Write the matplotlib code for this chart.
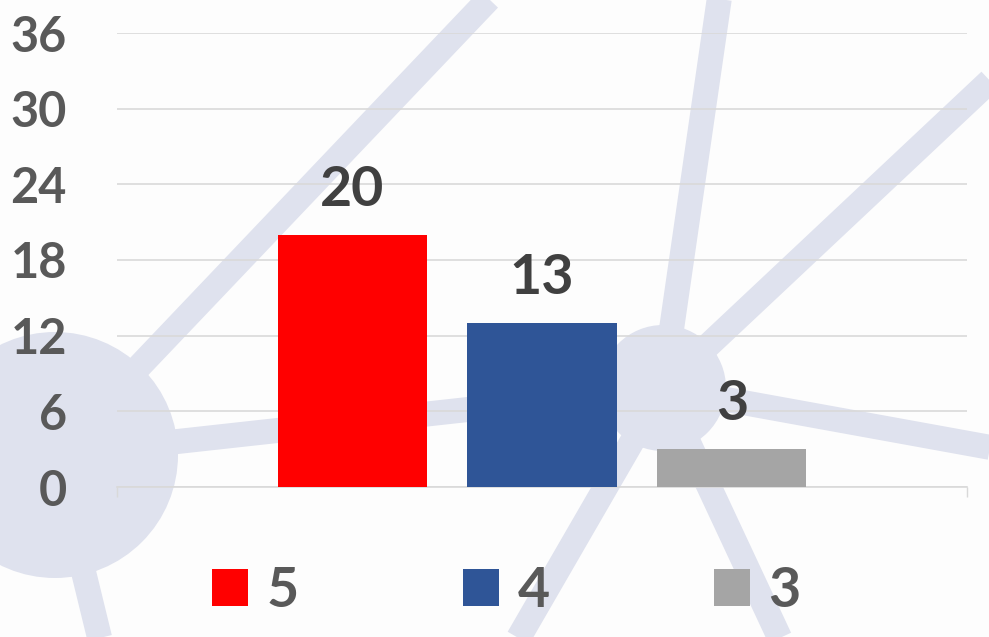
import matplotlib
matplotlib.use("Agg")
import matplotlib.pyplot as plt
from matplotlib.patches import Patch, Circle

# ---- data ----
series_names = ["5", "4", "3"]
values = [20, 13, 3]
colors = ["#FF0000", "#2F5597", "#A5A5A5"]
y_ticks = [0, 6, 12, 18, 24, 30, 36]

plt.rcParams["font.family"] = ["Lato", "DejaVu Sans"]

W, H = 989, 637
fig = plt.figure(figsize=(W / 100, H / 100), dpi=100)
fig.patch.set_facecolor("#FDFDFD")

# ---- decorative background network (pixel coordinates) ----
bg = fig.add_axes([0, 0, 1, 1], zorder=0)
bg.set_xlim(0, W)
bg.set_ylim(H, 0)
bg.axis("off")
deco = "#DFE2EE"
lw = 18
big_c = (55, 455)
mid_c = (663, 388)
segments = [
    [(507, -20), big_c],
    [big_c, (105, 660)],
    [big_c, mid_c],
    [(722, -20), mid_c],
    [(1010, 62), mid_c],
    [mid_c, (1010, 451)],
    [mid_c, (500, 670)],
    [mid_c, (790, 660)],
]
for (x0, y0), (x1, y1) in segments:
    bg.plot([x0, x1], [y0, y1], color=deco, lw=lw, solid_capstyle="butt")
bg.add_patch(Circle(big_c, 123, color=deco, lw=0))
bg.add_patch(Circle(mid_c, 63, color=deco, lw=0))

# ---- main chart ----
ax = fig.add_axes([117 / W, 1 - 487 / H, 850 / W, (487 - 33) / H], zorder=1)
ax.patch.set_alpha(0)

spacing = 0.2235
width = 0.1753
n = len(values)
for i, (name, v, c) in enumerate(zip(series_names, values, colors)):
    x = (i - (n - 1) / 2) * spacing
    ax.bar(x, v, width=width, color=c, label=name, zorder=3)
    ax.annotate(str(v), (x, v), xytext=(0, 21), textcoords="offset points",
                ha="center", va="baseline", fontsize=40, fontweight="bold",
                color="#404040", zorder=4)

ax.set_xlim(-0.5, 0.5)
ax.set_ylim(0, 36)
ax.set_yticks(y_ticks)
ax.set_yticklabels([str(t) for t in y_ticks], fontsize=35, fontweight="bold",
                   color="#595959")
ax.tick_params(axis="y", length=0, pad=36)
ax.set_xticks([-0.5, 0.5])
ax.set_xticklabels(["", ""])
ax.tick_params(axis="x", length=7.5, width=1.0, color="#D9D9D9", direction="out")

for s in ["top", "right", "left"]:
    ax.spines[s].set_visible(False)
ax.spines["bottom"].set_color("#D9D9D9")
ax.spines["bottom"].set_linewidth(1.2)
ax.yaxis.grid(True, color="#D9D9D9", lw=1.2, zorder=0)
ax.set_axisbelow(True)

handles = [Patch(facecolor=c, edgecolor="none") for c in colors]
leg = fig.legend(handles, series_names, loc="center left",
                 bbox_to_anchor=(212 / W, 1 - 591 / H),
                 bbox_transform=fig.transFigure, ncol=3, frameon=False,
                 borderpad=0, borderaxespad=0,
                 handlelength=0.64, handleheight=0.64, handletextpad=0.34,
                 columnspacing=2.96,
                 prop={"family": ["Lato", "DejaVu Sans"], "weight": "bold", "size": 40})
for t in leg.get_texts():
    t.set_color("#595959")

fig.savefig("out.png", dpi=100, facecolor=fig.get_facecolor())
